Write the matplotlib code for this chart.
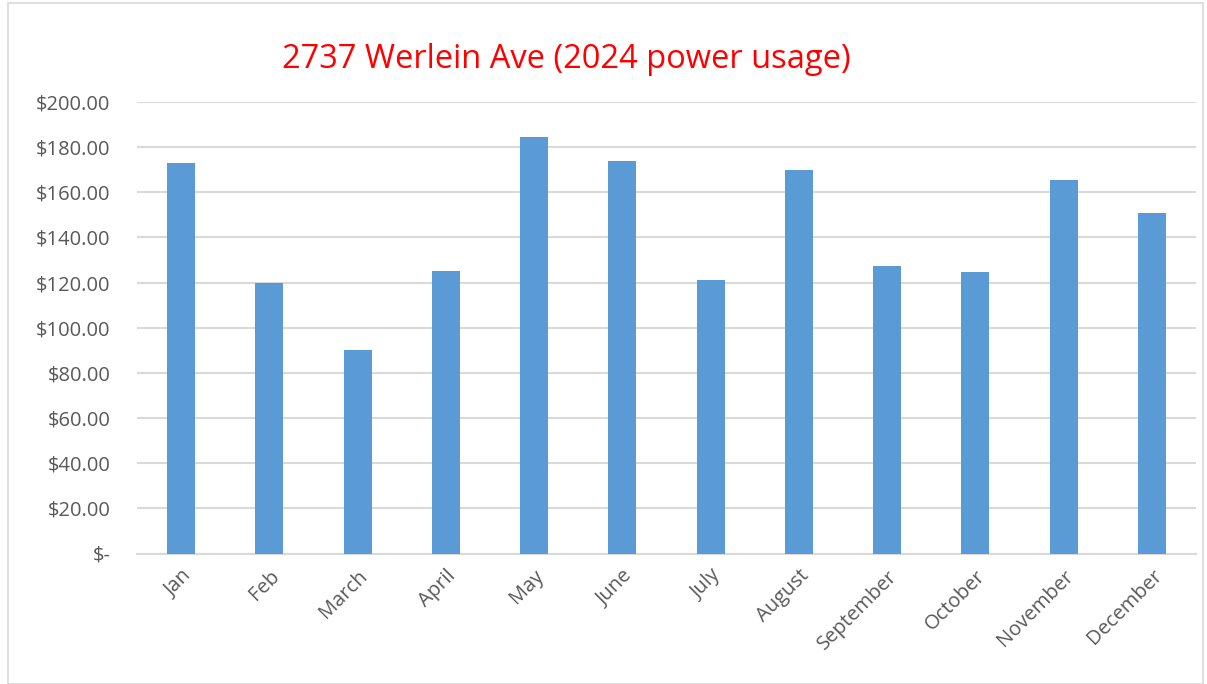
import matplotlib.pyplot as plt
from matplotlib.patches import Rectangle
from matplotlib.ticker import FuncFormatter

months = ['Jan', 'Feb', 'March', 'April', 'May', 'June', 'July',
          'August', 'September', 'October', 'November', 'December']
cost = [173, 120, 90, 125, 184.5, 174, 121, 170, 127.5, 124.5, 165.5, 151]
yticks = [0, 20, 40, 60, 80, 100, 120, 140, 160, 180, 200]

plt.rcParams['font.family'] = ['Open Sans', 'DejaVu Sans']

fig = plt.figure(figsize=(12.07, 6.84), dpi=100)
W, H = 1207, 684

# outer chart border
fig.patches.append(Rectangle((8 / W, 0), (1203 - 8) / W, 1 - 3 / H,
                             transform=fig.transFigure, fill=False,
                             edgecolor='#D9D9D9', linewidth=1.2))

ax = fig.add_axes([137 / W, 1 - 553.5 / H, (1196 - 137) / W, (553.5 - 102) / H])
x = range(len(months))
ax.bar(x, cost, width=0.32, color='#5B9BD5', zorder=3)

ax.set_xlim(-0.5, len(months) - 0.5)
ax.set_ylim(0, 200)
ax.set_yticks(yticks)


def money(v, pos):
    if v == 0:
        return '$-'
    return f'${v:,.2f}'


ax.yaxis.set_major_formatter(FuncFormatter(money))
ax.grid(axis='y', color='#D9D9D9', linewidth=1.5, zorder=0)
for s in ['top', 'right', 'left']:
    ax.spines[s].set_visible(False)
ax.spines['bottom'].set_color('#D9D9D9')
ax.spines['bottom'].set_linewidth(1.5)
ax.tick_params(length=0, colors='#595959', labelsize=14.5)
ax.tick_params(axis='y', pad=19)
ax.set_xticks(list(x))
ax.set_xticklabels(months, rotation=45, ha='right', rotation_mode='anchor')
ax.tick_params(axis='x', pad=9)

fig.text(566 / W, 1 - 60 / H, '2737 Werlein Ave (2024 power usage)',
         color='#FF0000', fontsize=23.5, ha='center', va='center')

fig.savefig('out.png', dpi=100)
